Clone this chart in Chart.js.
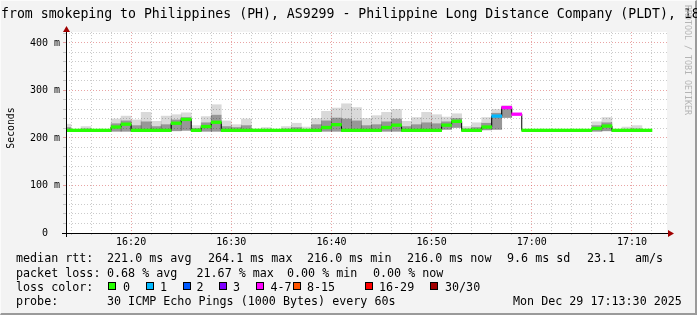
<!DOCTYPE html>
<html>
<head>
<meta charset="utf-8">
<script src="https://cdn.jsdelivr.net/npm/chart.js@4.4.1/dist/chart.umd.min.js"></script>
<style>
html, body { margin: 0; padding: 0; }
body { width: 697px; height: 315px; overflow: hidden; background: #f3f3f3; position: relative;
       font-family: "DejaVu Sans Mono", monospace; color: #000; }
#wrap { position: absolute; left: 0; top: 0; width: 697px; height: 315px; }
#frame { position: absolute; left: 0; top: 0; width: 694px; height: 312px; pointer-events: none;
         border-left: 1px solid #fbfbfb; border-top: 1px solid #fbfbfb;
         border-right: 2px solid #9a9a9a; border-bottom: 2px solid #9a9a9a; }
.t { position: absolute; white-space: pre; line-height: 14px; font-size: 11.7px; }
.box { position: absolute; width: 6px; height: 6px; border: 1px solid #000; }
</style>
</head>
<body>
<div id="wrap"><canvas id="chart" width="697" height="315"></canvas></div>
<div id="frame"></div>

<div class="t" style="left:1px;top:6px;font-size:13.2px;line-height:16px">from smokeping to Philippines (PH), AS9299 - Philippine Long Distance Company (PLDT), 18</div>
<div class="t" style="left:10.5px;top:128px;font-size:9.8px;transform:translate(-50%,-50%) rotate(-90deg)">Seconds</div>
<div class="t" style="left:688px;top:60px;font-size:8.3px;color:#b4b4b4;transform:translate(-50%,-50%) rotate(90deg)">RRDTOOL / TOBI OETIKER</div>

<div class="t" style="left:16px;top:251px">median rtt:</div>
<div class="t" style="left:107px;top:251px">221.0 ms avg</div>
<div class="t" style="left:208px;top:251px">264.1 ms max</div>
<div class="t" style="left:307px;top:251px">216.0 ms min</div>
<div class="t" style="left:407px;top:251px">216.0 ms now</div>
<div class="t" style="left:507px;top:251px">9.6 ms sd</div>
<div class="t" style="left:587px;top:251px">23.1</div>
<div class="t" style="left:635px;top:251px">am/s</div>

<div class="t" style="left:16px;top:266px">packet loss:</div>
<div class="t" style="left:107px;top:266px">0.68 % avg</div>
<div class="t" style="left:196.5px;top:266px">21.67 % max</div>
<div class="t" style="left:287px;top:266px">0.00 % min</div>
<div class="t" style="left:373px;top:266px">0.00 % now</div>

<div class="t" style="left:16px;top:280px">loss color:</div>
<div id="lossLegend"></div>

<div class="t" style="left:16px;top:294px">probe:</div>
<div class="t" style="left:107px;top:294px">30 ICMP Echo Pings (1000 Bytes) every 60s</div>
<div class="t" style="left:513px;top:294px">Mon Dec 29 17:13:30 2025</div>

<script>
// one slot per minute, first slot starts 16:13
const slotStart = 13;
const medianMs = [
  216, 216, 216, 216, 216, 223, 229, 216, 216, 216,
  216, 231, 239, 216, 224, 233, 216, 216, 216, 216,
  216, 216, 216, 216, 216, 216, 222, 228, 216, 216,
  216, 216, 222, 227, 216, 216, 216, 216, 227, 235,
  216, 216, 223, 246, 264, 250, 216, 216, 216, 216,
  216, 216, 216, 220, 225, 216, 216, 216, 216
];
const lossCount = [
  0, 0, 0, 0, 0, 0, 0, 0, 0, 0,
  0, 0, 0, 0, 0, 0, 0, 0, 0, 0,
  0, 0, 0, 0, 0, 0, 0, 0, 0, 0,
  0, 0, 0, 0, 0, 0, 0, 0, 0, 0,
  0, 0, 0, 1, 5, 6, 0, 0, 0, 0,
  0, 0, 0, 0, 0, 0, 0, 0, 0
];
const smokeLow = [
  214, null, 214, null, null, 214, 214, 214, 214, 214,
  214, 215, 216, 214, 214, 214, 214, 214, 214, 214,
  214, 214, 214, 214, 214, 214, 214, 214, 214, 214,
  214, 214, 214, 214, 214, 214, 214, 214, 218, 222,
  214, 214, 217, 218, 243, null, null, null, null, null,
  null, null, null, 214, 215, null, 214, 214, null
];
const smokeMid = [
  222, null, 219, null, null, 230, 236, 226, 234, 224,
  228, 238, 243, 220, 232, 248, 224, 222, 226, 217,
  218, 217, 219, 222, 218, 228, 236, 242, 240, 236,
  226, 228, 234, 240, 224, 228, 232, 230, 234, 241,
  219, 222, 231, 252, 266, null, null, null, null, null,
  null, null, null, 226, 232, null, 218, 219, null
];
const smokeTop = [
  229, null, 224, null, null, 240, 246, 238, 254, 235,
  246, 249, 253, 226, 245, 270, 236, 228, 240, 219,
  222, 218, 224, 231, 223, 241, 256, 263, 272, 264,
  241, 247, 254, 260, 235, 243, 254, 249, 244, 251,
  224, 232, 243, 260, 268, null, null, null, null, null,
  null, null, null, 234, 243, null, 223, 226, null
];
const lossLabels = ['0', '1', '2', '3', '4-7', '8-15', '16-29', '30/30'];
const lossColors = ['#26ff00', '#00b8ff', '#0059ff', '#7e00ff', '#ff00ff', '#ff5500', '#ff0000', '#a10000'];
const xMin = 13.5, xMax = 73.5;   // 16:13:30 .. 17:13:30
const yMax = 423;

function lossIndex(n) {
  if (n <= 3) return n;
  if (n <= 7) return 4;
  if (n <= 15) return 5;
  if (n <= 29) return 6;
  return 7;
}

// loss colour legend
const legendX = [[108, 123], [145.5, 160], [182.5, 196.5], [219, 233], [256, 270.5], [293, 307], [365, 379], [430, 445]];
const lossLegend = document.getElementById('lossLegend');
lossLabels.forEach((lab, i) => {
  const b = document.createElement('div');
  b.className = 'box';
  b.style.left = legendX[i][0] + 'px';
  b.style.top = '282px';
  b.style.background = lossColors[i];
  lossLegend.appendChild(b);
  const t = document.createElement('div');
  t.className = 't';
  t.style.left = legendX[i][1] + 'px';
  t.style.top = '280px';
  t.textContent = lab;
  lossLegend.appendChild(t);
});

const smokeLight = [], smokeDark = [], band = [], bandColors = [], medLine = [];
medianMs.forEach((v, i) => {
  const m = slotStart + i;
  if (smokeTop[i] !== null) {
    smokeLight.push({ x: m + 0.5, y: [smokeLow[i], smokeTop[i]] });
    smokeDark.push({ x: m + 0.5, y: [smokeLow[i], smokeMid[i]] });
  }
  band.push({ x: m + 0.5, y: [v - 2.8, v + 2.8] });
  bandColors.push(lossColors[lossIndex(lossCount[i])]);
  medLine.push({ x: m, y: v });
});
medLine.push({ x: slotStart + medianMs.length, y: medianMs[medianMs.length - 1] });

const xTicks = [], yTicks = [];
for (let v = 14; v <= 72; v += 2) xTicks.push({ value: v });
for (let v = 0; v <= 420; v += 20) yTicks.push({ value: v });

function timeLabel(v) {
  const h = 16 + Math.floor(v / 60), mm = v % 60;
  return h + ':' + String(mm).padStart(2, '0');
}

const minorGrid = 'rgba(160,160,160,0.55)';
const majorGrid = 'rgba(215,90,90,0.55)';

const plotBg = {
  id: 'plotBg',
  beforeDraw(chart) {
    const { ctx, chartArea: a } = chart;
    ctx.save();
    ctx.fillStyle = '#fff';
    ctx.fillRect(a.left, a.top, a.right - a.left, a.bottom - a.top);
    ctx.restore();
  }
};

const axesArrows = {
  id: 'axesArrows',
  afterDraw(chart) {
    const { ctx, chartArea: a } = chart;
    ctx.save();
    ctx.strokeStyle = '#000';
    ctx.lineWidth = 1;
    ctx.beginPath();
    ctx.moveTo(a.left - 4, a.bottom + 0.5);
    ctx.lineTo(a.right + 2, a.bottom + 0.5);
    ctx.moveTo(a.left + 0.5, a.bottom + 4);
    ctx.lineTo(a.left + 0.5, a.top - 1);
    ctx.stroke();
    ctx.fillStyle = '#a00000';
    ctx.beginPath();
    ctx.moveTo(a.right + 1, a.bottom - 3);
    ctx.lineTo(a.right + 7, a.bottom + 0.5);
    ctx.lineTo(a.right + 1, a.bottom + 4);
    ctx.closePath();
    ctx.fill();
    ctx.beginPath();
    ctx.moveTo(a.left - 3, a.top);
    ctx.lineTo(a.left + 0.5, a.top - 6);
    ctx.lineTo(a.left + 4, a.top);
    ctx.closePath();
    ctx.fill();
    ctx.restore();
  }
};

const barCommon = { grouped: false, barPercentage: 1, categoryPercentage: 1, borderWidth: 0 };

new Chart('chart', {
  type: 'bar',
  data: {
    datasets: [
      Object.assign({ label: 'smoke', data: smokeLight, backgroundColor: 'rgba(0,0,0,0.15)', order: 4 }, barCommon),
      Object.assign({ label: 'smoke core', data: smokeDark, backgroundColor: 'rgba(0,0,0,0.3)', order: 3 }, barCommon),
      {
        type: 'line', label: 'median', data: medLine, stepped: true,
        borderColor: '#000', borderWidth: 1, pointRadius: 0, order: 2
      },
      Object.assign({ label: 'median loss', data: band, backgroundColor: bandColors, order: 1 }, barCommon)
    ]
  },
  options: {
    responsive: false,
    animation: false,
    events: [],
    layout: { padding: { left: 0, top: 32, right: 30, bottom: 62 } },
    plugins: { legend: { display: false }, tooltip: { enabled: false } },
    scales: {
      x: {
        type: 'linear', min: xMin, max: xMax, offset: false,
        afterFit(s) { s.height = 20; },
        afterBuildTicks(s) { s.ticks = xTicks.map(t => ({ value: t.value })); },
        grid: {
          offset: false, tickLength: 2, lineWidth: 1,
          color: c => (c.tick && c.tick.value % 10 === 0) ? majorGrid : minorGrid,
          tickColor: c => (c.tick && c.tick.value % 10 === 0) ? majorGrid : minorGrid
        },
        border: { display: false, dash: [1, 2] },
        ticks: {
          autoSkip: false, maxRotation: 0, padding: 1, color: '#000',
          font: { family: 'DejaVu Sans Mono', size: 10 },
          callback: v => v % 10 === 0 ? timeLabel(v) : ''
        }
      },
      y: {
        type: 'linear', min: 0, max: yMax,
        afterFit(s) { s.width = 66; },
        afterBuildTicks(s) { s.ticks = yTicks.map(t => ({ value: t.value })); },
        grid: {
          tickLength: 3, lineWidth: 1,
          color: c => (c.tick && c.tick.value % 100 === 0) ? majorGrid : minorGrid,
          tickColor: c => (c.tick && c.tick.value % 100 === 0) ? majorGrid : minorGrid
        },
        border: { display: false, dash: [1, 2] },
        ticks: {
          autoSkip: false, padding: 3, color: '#000',
          font: { family: 'DejaVu Sans Mono', size: 10 },
          callback: v => v % 100 !== 0 ? '' : (v === 0 ? '0  ' : v + ' m')
        }
      }
    }
  },
  plugins: [plotBg, axesArrows]
});
</script>
</body>
</html>
